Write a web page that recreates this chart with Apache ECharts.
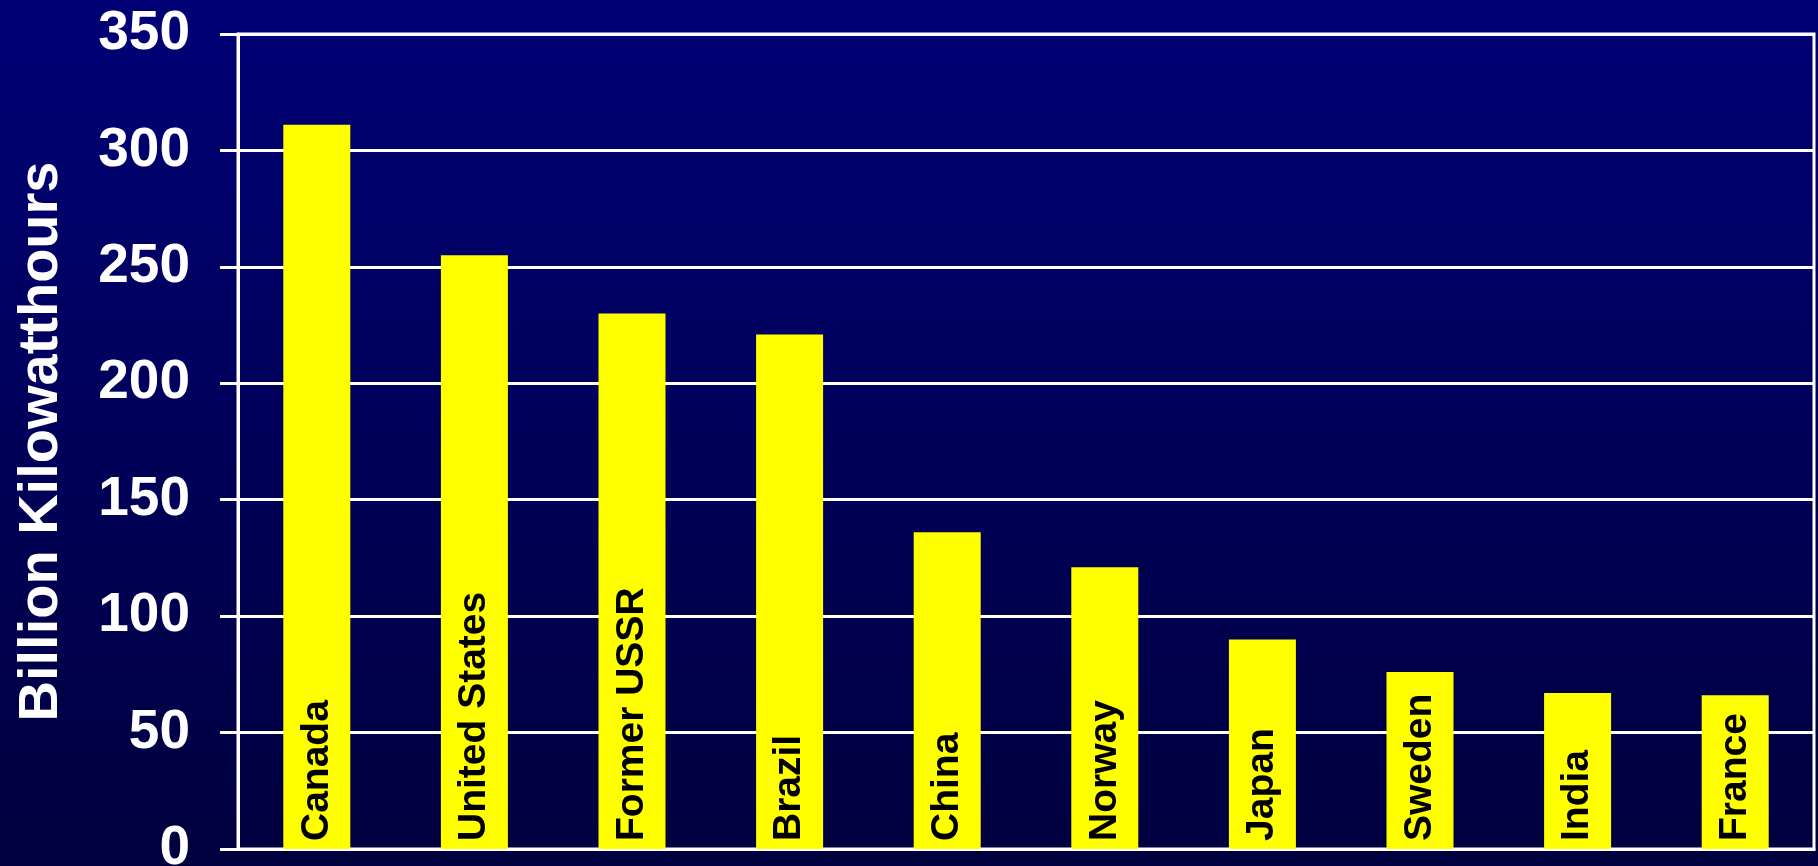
<!DOCTYPE html>
<html>
<head>
<meta charset="utf-8">
<script src="https://cdn.jsdelivr.net/npm/echarts@6/dist/echarts.min.js"></script>
<style>
  html, body { margin: 0; padding: 0; }
  #main { width: 1818px; height: 866px; }
</style>
</head>
<body>
<div id="main"></div>
<script>
// countries, in bar order
const countries = ['Canada', 'United States', 'Former USSR', 'Brazil', 'China',
  'Norway', 'Japan', 'Sweden', 'India', 'France'];
// hydroelectric output, billion kWh
const output = [311, 255, 230, 221, 136, 121, 90, 76, 67, 66];
const yTicks = [0, 50, 100, 150, 200, 250, 300, 350];

const myChart = echarts.init(document.getElementById('main'));

const option = {
  backgroundColor: new echarts.graphic.LinearGradient(0, 0, 0, 1, [
    { offset: 0, color: '#000076' },
    { offset: 1, color: '#00003e' }
  ]),
  animation: false,
  grid: {
    left: 238,
    right: 4,
    top: 34,
    bottom: 17,
    outerBoundsMode: 'none',
    containLabel: false,
    show: true,
    borderColor: '#ffffff',
    borderWidth: 3
  },
  xAxis: {
    type: 'category',
    data: countries,
    axisLine: { show: true, lineStyle: { color: '#ffffff', width: 3 } },
    axisTick: { show: false },
    axisLabel: { show: false },
    splitLine: { show: false }
  },
  yAxis: {
    type: 'value',
    min: yTicks[0],
    max: yTicks[yTicks.length - 1],
    interval: 50,
    name: 'Billion Kilowatthours',
    nameLocation: 'middle',
    nameGap: 168,
    nameTextStyle: {
      color: '#ffffff',
      fontFamily: 'Liberation Sans',
      fontWeight: 'bold',
      fontSize: 56
    },
    axisLine: { show: true, lineStyle: { color: '#ffffff', width: 3 } },
    axisTick: { show: true, length: 18, lineStyle: { color: '#ffffff', width: 3 } },
    axisLabel: {
      color: '#ffffff',
      fontFamily: 'Liberation Sans',
      fontWeight: 'bold',
      fontSize: 55,
      margin: 48
    },
    splitLine: { show: true, lineStyle: { color: '#ffffff', width: 3 } }
  },
  series: [
    {
      type: 'bar',
      data: output,
      barWidth: 67,
      itemStyle: { color: '#ffff00' },
      label: {
        show: true,
        formatter: '{b}',
        position: 'insideBottom',
        rotate: 90,
        align: 'left',
        verticalAlign: 'middle',
        distance: 8,
        color: '#000000',
        fontFamily: 'Liberation Sans',
        fontWeight: 'bold',
        fontSize: 39
      }
    }
  ]
};

option && myChart.setOption(option);
</script>
</body>
</html>
